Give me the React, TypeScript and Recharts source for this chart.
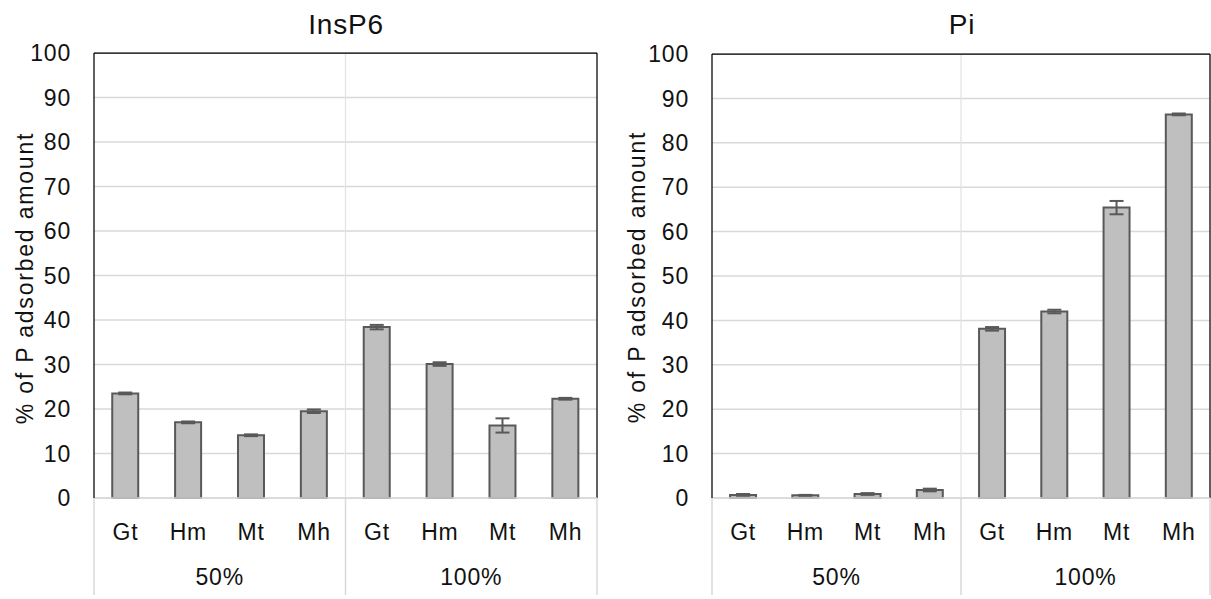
import React from 'react';
import { BarChart, Bar, XAxis, YAxis, CartesianGrid, ErrorBar, ReferenceLine } from 'recharts';

const categories = ['Gt', 'Hm', 'Mt', 'Mh'];
const groups = ['50%', '100%'];
const insp6Values = [23.5, 17.0, 14.1, 19.5, 38.4, 30.1, 16.3, 22.3];
const insp6Errors = [0.2, 0.2, 0.2, 0.4, 0.5, 0.4, 1.6, 0.2];
const piValues = [0.7, 0.6, 0.9, 1.8, 38.1, 42.0, 65.4, 86.4];
const piErrors = [0.2, 0.1, 0.2, 0.3, 0.4, 0.4, 1.5, 0.2];
const yTicks = [0, 10, 20, 30, 40, 50, 60, 70, 80, 90, 100];
const titles = ['InsP6', 'Pi'];
const yTitle = '% of P adsorbed amount';

const FONT = '"Liberation Sans", Arial, Helvetica, sans-serif';
const CAT_H = 55;
const GRP_H = 46;
const TEXT = '#111';

type Row = { key: string; cat: string; grp: string; value: number; err: number };

function buildRows(values: number[], errors: number[]): Row[] {
  const rows: Row[] = [];
  groups.forEach((g, gi) => {
    categories.forEach((c, ci) => {
      const i = gi * categories.length + ci;
      rows.push({ key: `${c}|${g}`, cat: c, grp: g, value: values[i], err: errors[i] });
    });
  });
  return rows;
}

const CatTick = (props: any) => {
  const { x, y, payload } = props;
  const label = String(payload.value).split('|')[0];
  return (
    <text x={x} y={y + 42} textAnchor="middle" fontSize={23} letterSpacing={0.8} fill={TEXT} fontFamily={FONT}>
      {label}
    </text>
  );
};

const GrpTick = (props: any) => {
  const { x, y, payload, index } = props;
  const off = typeof payload.offset === 'number' ? payload.offset : 0;
  return (
    <g>
      <line x1={x - off} x2={x - off} y1={y - CAT_H} y2={y + 42} stroke="#d9d9d9" strokeWidth={1.5} />
      {index === groups.length - 1 ? (
        <line x1={x + off} x2={x + off} y1={y - CAT_H} y2={y + 42} stroke="#d9d9d9" strokeWidth={1.5} />
      ) : null}
      <text x={x} y={y + 32} textAnchor="middle" fontSize={23} letterSpacing={0.8} fill={TEXT} fontFamily={FONT}>
        {payload.value}
      </text>
    </g>
  );
};

const YTick = (props: any) => {
  const { x, y, payload } = props;
  return (
    <text x={x} y={y} dy="0.36em" textAnchor="end" fontSize={23} letterSpacing={0.8} fill={TEXT} fontFamily={FONT}>
      {payload.value}
    </text>
  );
};

type PanelProps = {
  rows: Row[];
  width: number;
  height: number;
  top: number;
  right: number;
  yWidth: number;
};

function Panel({ rows, width, height, top, right, yWidth }: PanelProps) {
  const lastKey = rows[rows.length - 1].key;
  const midKey = rows[categories.length].key;
  return (
    <BarChart
      width={width}
      height={height}
      data={rows}
      margin={{ top, right, bottom: 0, left: 0 }}
      barCategoryGap="29%"
    >
      <CartesianGrid vertical={false} stroke="#d9d9d9" strokeWidth={1.5} />
      <XAxis
        dataKey="key"
        interval={0}
        height={CAT_H}
        tickSize={0}
        tickMargin={0}
        tickLine={false}
        axisLine={{ stroke: '#d9d9d9', strokeWidth: 1.5 }}
        tick={CatTick}
      />
      <XAxis
        xAxisId="grp"
        dataKey="grp"
        allowDuplicatedCategory={false}
        interval={0}
        height={GRP_H}
        tickSize={0}
        tickMargin={0}
        tickLine={false}
        axisLine={false}
        tick={GrpTick}
      />
      <YAxis
        domain={[0, 100]}
        ticks={yTicks}
        interval={0}
        width={yWidth}
        tickSize={0}
        tickMargin={23}
        tickLine={false}
        axisLine={{ stroke: '#000', strokeWidth: 1.25 }}
        tick={YTick}
      />
      <ReferenceLine x={midKey} position="start" stroke="#e3e3e3" strokeWidth={1.25} />
      <ReferenceLine y={100} stroke="#000" strokeWidth={1.25} />
      <ReferenceLine x={lastKey} position="end" stroke="#000" strokeWidth={1.25} />
      <Bar dataKey="value" fill="#bfbfbf" stroke="#595959" strokeWidth={2} isAnimationActive={false}>
        <ErrorBar dataKey="err" width={7} stroke="#595959" strokeWidth={2} direction="y" />
      </Bar>
    </BarChart>
  );
}

export default function App() {
  const insRows = buildRows(insp6Values, insp6Errors);
  const piRows = buildRows(piValues, piErrors);
  return (
    <div style={{ position: 'absolute', left: 0, top: 0, width: 1211, height: 599, background: '#fff', overflow: 'hidden' }}>
      <div style={{ position: 'absolute', left: 0, top: 0 }}>
        <Panel rows={insRows} width={605} height={599} top={53} right={8} yWidth={94} />
      </div>
      <div style={{ position: 'absolute', left: 605, top: 0 }}>
        <Panel rows={piRows} width={606} height={599} top={54} right={1} yWidth={107} />
      </div>
      <svg
        width={1211}
        height={599}
        style={{ position: 'absolute', left: 0, top: 0, pointerEvents: 'none' }}
      >
        <text x={346} y={34} textAnchor="middle" fontSize={28} letterSpacing={0.8} fill={TEXT} fontFamily={FONT}>
          {titles[0]}
        </text>
        <text x={962} y={34} textAnchor="middle" fontSize={28} letterSpacing={0.8} fill={TEXT} fontFamily={FONT}>
          {titles[1]}
        </text>
        <text
          transform="translate(25,278) rotate(-90)"
          dy="0.36em"
          textAnchor="middle"
          fontSize={23}
          letterSpacing={1.8}
          fill={TEXT}
          fontFamily={FONT}
        >
          {yTitle}
        </text>
        <text
          transform="translate(637,277) rotate(-90)"
          dy="0.36em"
          textAnchor="middle"
          fontSize={23}
          letterSpacing={1.8}
          fill={TEXT}
          fontFamily={FONT}
        >
          {yTitle}
        </text>
      </svg>
    </div>
  );
}
